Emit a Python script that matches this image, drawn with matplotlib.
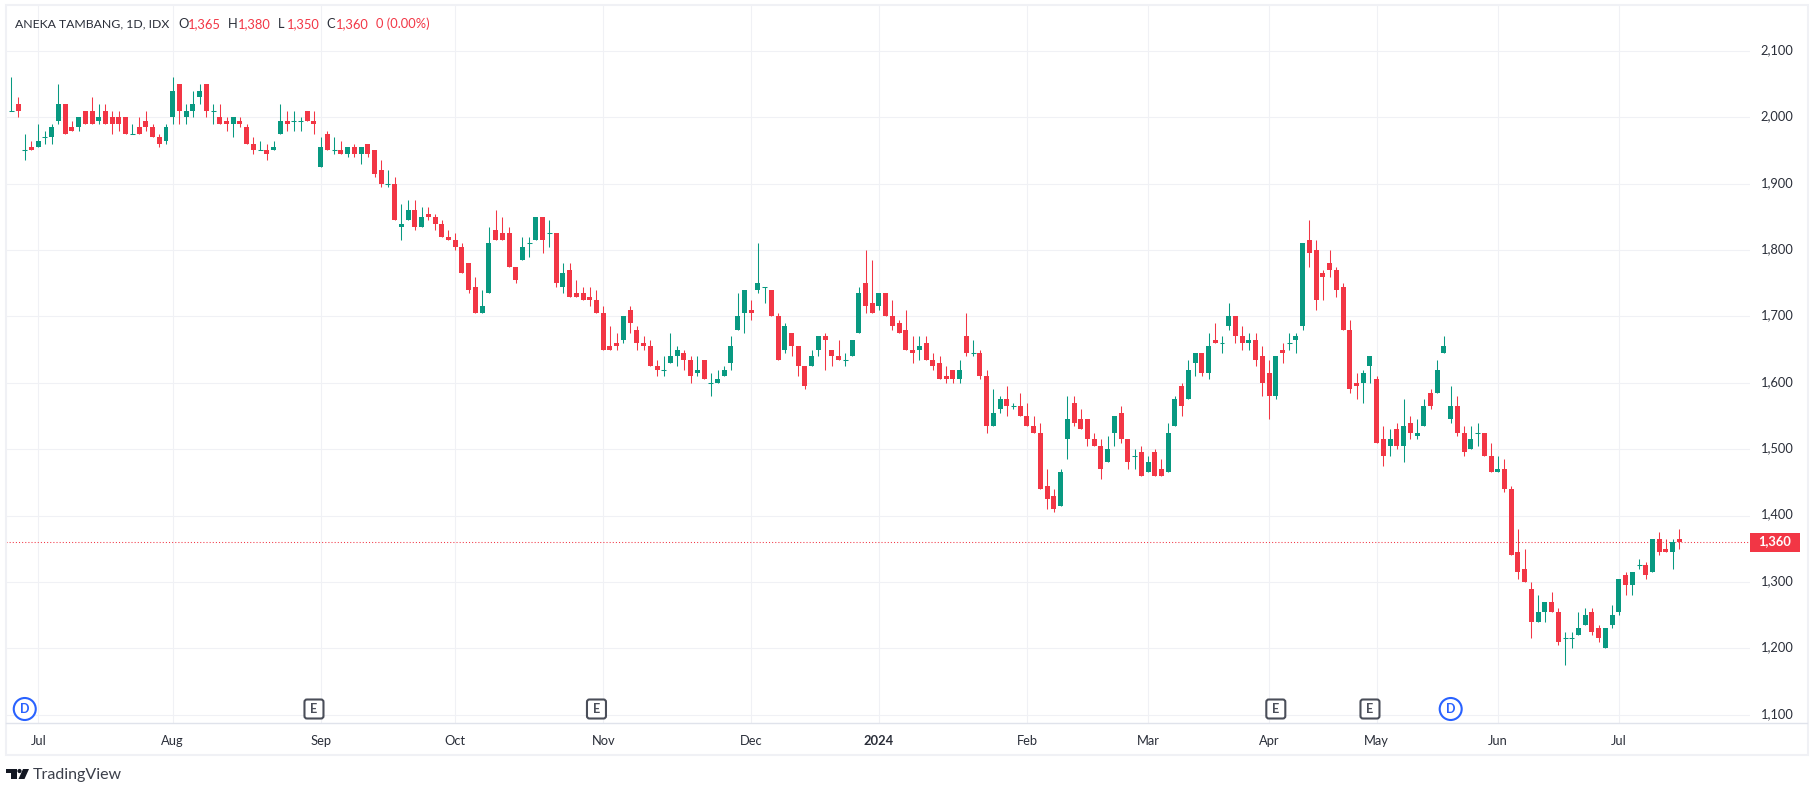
import matplotlib
matplotlib.use("Agg")
import matplotlib.pyplot as plt
import numpy as np
from matplotlib.patches import Rectangle, Polygon, Circle, FancyBboxPatch
from matplotlib.transforms import Affine2D, ScaledTranslation

plt.rcParams['font.family'] = ['Lato', 'DejaVu Sans']

opens = [2010,2020,1950,1955,1955,1970,1970,1995,2020,1985,
         1985,2010,2010,1995,2010,2000,2000,2000,1975,1985,
         1995,1985,1970,1965,2000,2050,2000,2010,2030,2050,
         2010,2000,1995,1990,1995,1985,1960,1950,1950,1950,
         1975,1995,1995,1995,2010,1995,1925,1975,1950,1950,
         1945,1955,1945,1960,1950,1920,1900,1900,1835,1845,
         1860,1835,1855,1850,1840,1820,1815,1805,1780,1745,
         1705,1735,1830,1825,1825,1775,1785,1810,1815,1850,
         1825,1825,1745,1770,1735,1735,1730,1725,1705,1655,
         1660,1665,1710,1680,1660,1655,1625,1620,1630,1640,
         1645,1635,1615,1635,1600,1600,1610,1630,1680,1705,
         1710,1740,1745,1740,1700,1650,1675,1655,1625,1625,
         1650,1670,1650,1640,1635,1640,1675,1750,1720,1715,
         1735,1700,1690,1680,1650,1650,1660,1635,1630,1610,
         1620,1605,1670,1645,1645,1610,1535,1560,1575,1565,
         1565,1550,1535,1525,1445,1430,1415,1515,1570,1545,
         1545,1515,1505,1480,1525,1555,1515,1490,1495,1465,
         1495,1470,1465,1535,1595,1575,1630,1645,1615,1665,
         1660,1685,1700,1670,1660,1665,1640,1615,1580,1650,
         1660,1665,1685,1815,1800,1765,1780,1770,1745,1680,
         1600,1600,1625,1605,1515,1505,1530,1505,1540,1520,
         1535,1585,1585,1645,1545,1565,1525,1500,1525,1525,
         1490,1465,1470,1440,1345,1320,1290,1240,1255,1270,
         1255,1215,1215,1220,1235,1255,1230,1200,1235,1255,
         1310,1295,1325,1325,1315,1365,1350,1345,1365]
highs = [2060,2030,1975,1965,1990,1980,1990,2050,2020,1995,
         2000,2010,2030,2020,2020,2010,2010,2000,1990,2000,
         2010,1990,1975,1990,2060,2050,2020,2040,2050,2050,
         2020,2020,2000,2000,2000,1990,1970,1965,1960,1965,
         2020,2010,2010,2000,2010,2010,1970,1980,1970,1965,
         1955,1960,1955,1960,1950,1935,1920,1910,1870,1875,
         1875,1865,1865,1855,1845,1830,1825,1810,1780,1760,
         1740,1835,1860,1850,1835,1775,1820,1820,1850,1850,
         1845,1825,1780,1780,1755,1745,1745,1740,1715,1685,
         1675,1700,1715,1685,1670,1665,1635,1640,1675,1655,
         1650,1640,1640,1635,1615,1620,1625,1670,1735,1740,
         1725,1810,1745,1740,1705,1690,1675,1655,1625,1650,
         1670,1675,1650,1665,1645,1665,1745,1800,1785,1735,
         1735,1725,1695,1710,1670,1670,1670,1645,1640,1625,
         1620,1635,1705,1665,1650,1620,1590,1580,1595,1570,
         1585,1570,1550,1540,1470,1440,1470,1580,1580,1560,
         1545,1525,1515,1520,1550,1565,1515,1500,1505,1490,
         1500,1485,1540,1580,1600,1635,1645,1645,1675,1690,
         1670,1720,1700,1685,1675,1675,1655,1635,1640,1660,
         1675,1675,1810,1845,1815,1770,1800,1775,1750,1695,
         1615,1620,1640,1610,1535,1530,1540,1575,1550,1545,
         1575,1590,1635,1670,1595,1580,1535,1535,1540,1525,
         1510,1490,1485,1445,1380,1350,1300,1280,1270,1285,
         1260,1225,1225,1255,1260,1260,1235,1230,1265,1305,
         1315,1315,1335,1330,1365,1375,1365,1365,1380]
lows = [2010,2000,1935,1950,1955,1960,1960,1990,1975,1980,
        1980,1990,1990,1990,1990,1975,1980,1975,1975,1975,
        1980,1970,1955,1960,1990,1990,1990,2000,2020,2000,
        1990,1990,1980,1970,1985,1960,1945,1950,1935,1950,
        1975,1980,1980,1980,1995,1975,1925,1950,1945,1945,
        1940,1940,1930,1940,1910,1895,1895,1845,1815,1845,
        1830,1835,1845,1830,1820,1815,1800,1765,1735,1705,
        1705,1735,1815,1815,1775,1750,1785,1790,1815,1795,
        1805,1745,1735,1730,1730,1725,1715,1705,1650,1650,
        1650,1660,1675,1650,1650,1625,1610,1610,1630,1625,
        1620,1600,1610,1605,1580,1600,1610,1620,1680,1675,
        1695,1735,1720,1700,1635,1645,1640,1610,1590,1625,
        1640,1620,1625,1635,1625,1640,1675,1705,1705,1710,
        1700,1680,1675,1650,1630,1635,1635,1620,1605,1600,
        1600,1600,1640,1640,1605,1525,1535,1555,1550,1560,
        1550,1535,1525,1440,1410,1405,1415,1485,1535,1530,
        1505,1505,1455,1480,1505,1510,1470,1470,1460,1465,
        1460,1460,1465,1535,1550,1575,1610,1610,1605,1660,
        1645,1680,1660,1650,1650,1625,1580,1545,1575,1630,
        1650,1645,1680,1775,1710,1725,1760,1730,1680,1585,
        1575,1570,1600,1510,1475,1490,1500,1480,1515,1515,
        1535,1560,1585,1645,1540,1520,1490,1500,1505,1490,
        1465,1465,1435,1340,1305,1300,1215,1240,1240,1255,
        1205,1175,1200,1220,1235,1220,1210,1200,1230,1250,
        1280,1280,1320,1305,1315,1340,1345,1320,1350]
closes = [2010,2010,1950,1950,1965,1970,1985,2020,1975,1980,
          2000,1990,1990,2000,1990,1990,1990,1975,1975,1975,
          1985,1970,1960,1985,2040,2010,2010,2020,2040,2010,
          2010,1990,1990,2000,1990,1960,1950,1950,1945,1955,
          1995,1990,1995,1995,1995,1990,1955,1950,1950,1945,
          1955,1945,1955,1945,1915,1900,1900,1845,1840,1860,
          1835,1850,1850,1840,1820,1815,1805,1765,1740,1705,
          1715,1810,1815,1815,1775,1755,1805,1810,1850,1815,
          1825,1750,1765,1730,1730,1725,1725,1705,1650,1650,
          1655,1700,1690,1660,1655,1625,1620,1620,1640,1650,
          1635,1610,1620,1605,1600,1605,1620,1655,1700,1740,
          1705,1750,1745,1700,1635,1685,1655,1625,1595,1640,
          1670,1665,1640,1635,1635,1665,1735,1715,1705,1735,
          1700,1685,1675,1650,1645,1655,1635,1625,1605,1605,
          1605,1620,1645,1645,1610,1535,1555,1575,1565,1565,
          1550,1535,1525,1440,1425,1410,1465,1545,1540,1530,
          1515,1505,1470,1500,1550,1515,1480,1490,1460,1480,
          1460,1460,1525,1575,1565,1620,1645,1615,1655,1660,
          1660,1700,1670,1660,1665,1635,1600,1580,1640,1645,
          1660,1670,1810,1795,1725,1760,1770,1740,1680,1590,
          1595,1615,1640,1510,1490,1515,1505,1535,1525,1525,
          1565,1565,1620,1655,1565,1525,1495,1515,1525,1490,
          1465,1470,1440,1340,1315,1300,1240,1255,1270,1255,
          1210,1215,1215,1230,1250,1225,1215,1230,1250,1305,
          1295,1315,1325,1310,1365,1345,1345,1360,1360]

month_bars = [4,24,46,66,88,110,129,151,169,187,203,221,239]
month_labels = ['Jul','Aug','Sep','Oct','Nov','Dec','2024','Feb','Mar','Apr','May','Jun','Jul']
price_ticks = [1100,1200,1300,1400,1500,1600,1700,1800,1900,2000,2100]
earnings_bars = [45,87,188,202]
dividend_bars = [2,214]

green = '#089981'
red = '#F23645'
grid = '#F0F1F5'
frame = '#E0E3EB'
ink = '#2A2E39'

W, H = 1812, 789
fig = plt.figure(figsize=(W/100, H/100), dpi=100)
ax = fig.add_axes([6/W, 1-723.3/H, (1750-6)/W, (723.3-6)/H])
px = Affine2D().scale(1/W, -1/H).translate(0, 1) + fig.transFigure

o = np.array(opens); h = np.array(highs); l = np.array(lows); c = np.array(closes)
bars = np.arange(len(o))
cols = [green if a >= b else red for a, b in zip(c, o)]
w = 0.743

ax.vlines(bars, l, h, colors=cols, linewidth=0.75, zorder=3)
ax.bar(bars, np.abs(c-o), width=w, bottom=np.minimum(o, c), color=cols, linewidth=0, zorder=4)
flat = o == c
ax.hlines(c[flat], bars[flat]-w/2, bars[flat]+w/2, colors=green, linewidth=0.75, zorder=4)

ax.set_xlim(-0.788, 258.5)
ax.set_ylim(1087.0, 2167.7)
ax.set_yticks(price_ticks)
ax.set_yticklabels([f'{p:,}' for p in price_ticks])
ax.yaxis.tick_right()
ax.set_xticks(month_bars)
ax.set_xticklabels(month_labels)
ax.tick_params(length=0, labelsize=9.3, labelcolor=ink)
ax.tick_params(axis='y', pad=7.5)
ax.tick_params(axis='x', pad=8.5)
# price labels sit a little above their grid lines
up = ScaledTranslation(0, 2/100, fig.dpi_scale_trans)
for t in ax.get_yticklabels():
    t.set_transform(t.get_transform() + up)
for t in ax.get_xticklabels():
    if t.get_text() == '2024':
        t.set_fontweight('bold')
ax.grid(True, color=grid, linewidth=0.8, zorder=0)
ax.set_axisbelow(True)
for s in ax.spines.values():
    s.set_visible(False)

# last price line and its label
ax.axhline(closes[-1], color=red, linewidth=0.75, linestyle=(0, (1, 2)), zorder=2)
fig.add_artist(Rectangle((1750, 533), 50, 19, transform=px, color=red, linewidth=0))
fig.text(1775/W, 1-541.5/H, f'{closes[-1]:,}', color='white', fontsize=9.3, fontweight='bold',
         ha='center', va='center')

# chart frame
fig.add_artist(Rectangle((5.5, 5), 1802, 750, transform=px, fill=False, edgecolor=grid, linewidth=1.5))
fig.add_artist(plt.Line2D([6, 1807], [723.5, 723.5], transform=px, color=frame, linewidth=1))

# event markers
marker_y = 709
for b in earnings_bars:
    xx = ax.transData.transform((b, 1500))[0]
    fig.add_artist(FancyBboxPatch((xx-8, marker_y-8), 16, 16, boxstyle='round,pad=1.5,rounding_size=2.5',
                                  transform=px, facecolor='white', edgecolor='#4A4E59', linewidth=1.5))
    fig.text(xx/W, 1-marker_y/H, 'E', color='#4A4E59', fontsize=9, fontweight='bold', ha='center', va='center')
for b in dividend_bars:
    xx = ax.transData.transform((b, 1500))[0]
    fig.add_artist(Circle((xx, marker_y), 11, transform=px, facecolor='white', edgecolor='#2962FF', linewidth=1.5))
    fig.text(xx/W, 1-marker_y/H, 'D', color='#2962FF', fontsize=9, fontweight='bold', ha='center', va='center')

# legend line
legend_y = 1-24/H
fig.text(15/W, legend_y, 'ANEKA TAMBANG, 1D, IDX', color=ink, fontsize=8.85, va='center')
for x0, s, col in [(178,'O',ink),(188,'1,365',red),(228,'H',ink),(238,'1,380',red),
                   (278,'L',ink),(287,'1,350',red),(326,'C',ink),(336,'1,360',red),
                   (376,'0 (0.00%)',red)]:
    fig.text(x0/W, legend_y, s, color=col, fontsize=9.3, va='center')

# logo
fig.add_artist(Polygon([(6,769),(16.5,769),(16.5,779),(11,779),(11,773),(6,773)], transform=px, color='#131722', linewidth=0))
fig.add_artist(Circle((19.5,771), 2.1, transform=px, color='#131722', linewidth=0))
fig.add_artist(Polygon([(23,769),(29,769),(24.5,779),(18.5,779)], transform=px, color='#131722', linewidth=0))
fig.text(33/W, 1-775/H, 'TradingView', color='#3B3F4A', fontsize=11.5, va='center')

fig.savefig('out.png', dpi=100)
